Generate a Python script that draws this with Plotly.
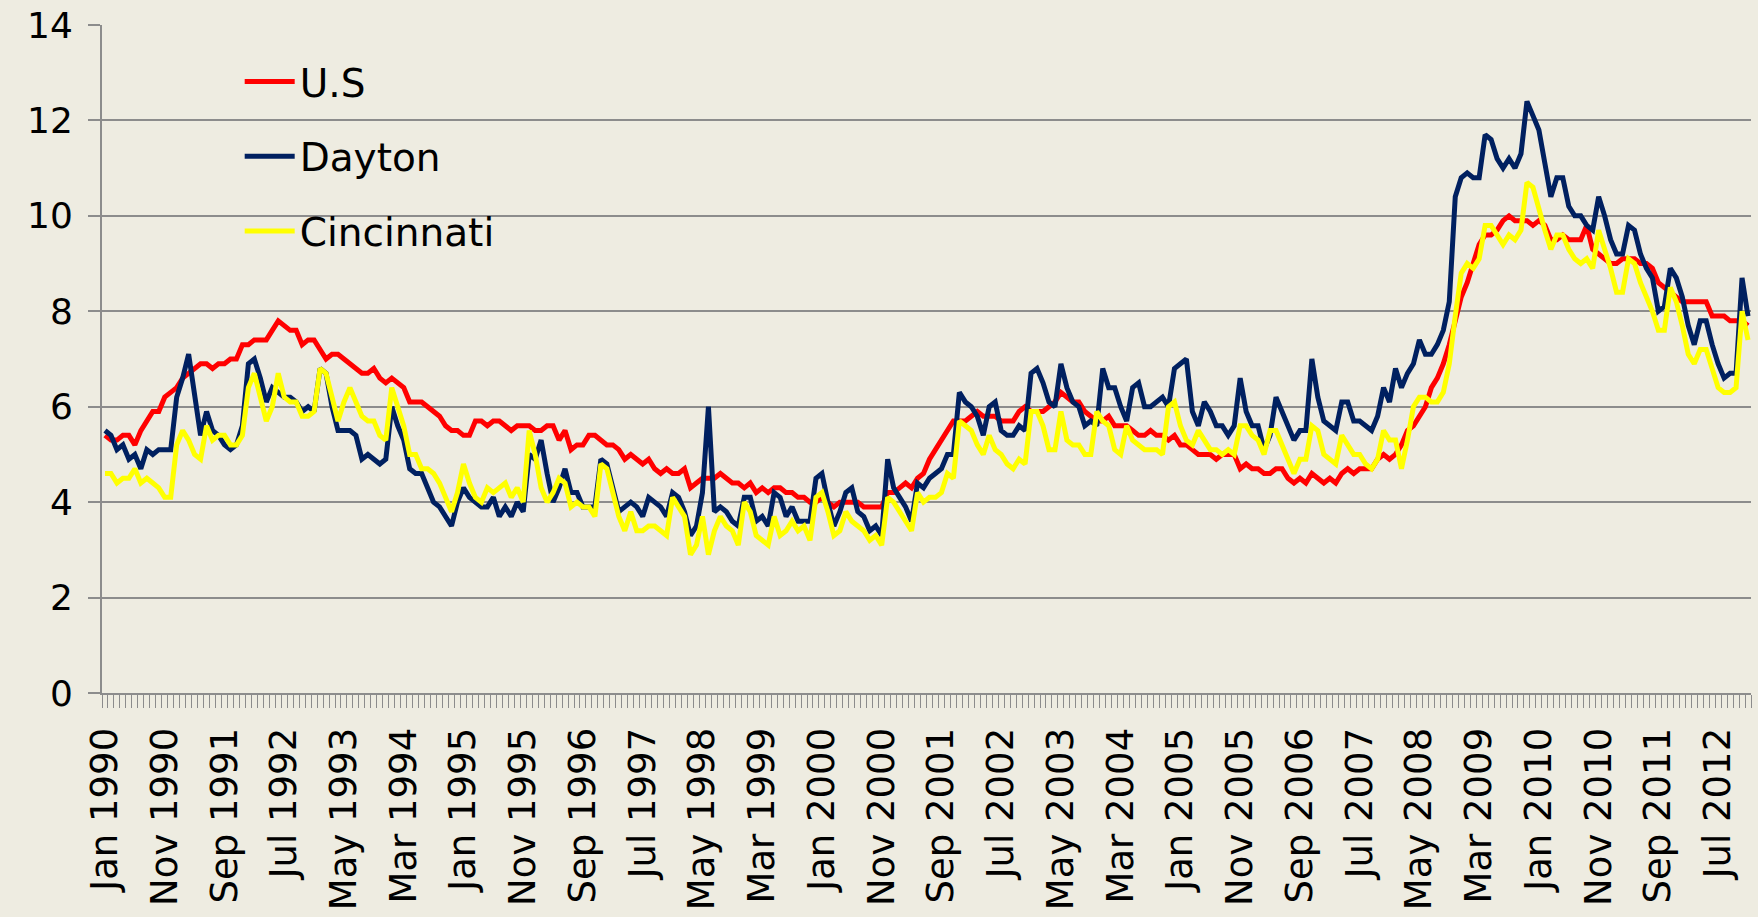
import plotly.graph_objects as go

# monthly categories, Jan 1990 .. Dec 2012
MONTH_NAMES = ["Jan", "Feb", "Mar", "Apr", "May", "Jun",
               "Jul", "Aug", "Sep", "Oct", "Nov", "Dec"]
months = [f"{m} {y}" for y in range(1990, 2013) for m in MONTH_NAMES]

# labels Excel printed under the axis (every 10th month)
tick_labels = [
    "Jan 1990", "Nov 1990", "Sep 1991", "Jul 1992", "May 1993", "Mar 1994",
    "Jan 1995", "Nov 1995", "Sep 1996", "Jul 1997", "May 1998", "Mar 1999",
    "Jan 2000", "Nov 2000", "Sep 2001", "Jul 2002", "May 2003", "Mar 2004",
    "Jan 2005", "Nov 2005", "Sep 2006", "Jul 2007", "May 2008", "Mar 2009",
    "Jan 2010", "Nov 2010", "Sep 2011", "Jul 2012",
]

# unemployment rate (%), one row per year
us = [
    5.4, 5.3, 5.3, 5.4, 5.4, 5.2, 5.5, 5.7, 5.9, 5.9, 6.2, 6.3,
    6.4, 6.6, 6.7, 6.8, 6.9, 6.9, 6.8, 6.9, 6.9, 7.0, 7.0, 7.3,
    7.3, 7.4, 7.4, 7.4, 7.6, 7.8, 7.7, 7.6, 7.6, 7.3, 7.4, 7.4,
    7.2, 7.0, 7.1, 7.1, 7.0, 6.9, 6.8, 6.7, 6.7, 6.8, 6.6, 6.5,
    6.6, 6.5, 6.4, 6.1, 6.1, 6.1, 6.0, 5.9, 5.8, 5.6, 5.5, 5.5,
    5.4, 5.4, 5.7, 5.7, 5.6, 5.7, 5.7, 5.6, 5.5, 5.6, 5.6, 5.6,
    5.5, 5.5, 5.6, 5.6, 5.3, 5.5, 5.1, 5.2, 5.2, 5.4, 5.4, 5.3,
    5.2, 5.2, 5.1, 4.9, 5.0, 4.9, 4.8, 4.9, 4.7, 4.6, 4.7, 4.6,
    4.6, 4.7, 4.3, 4.4, 4.5, 4.5, 4.5, 4.6, 4.5, 4.4, 4.4, 4.3,
    4.4, 4.2, 4.3, 4.2, 4.3, 4.3, 4.2, 4.2, 4.1, 4.1, 4.0, 4.0,
    4.1, 4.0, 3.9, 4.0, 4.0, 4.0, 4.0, 3.9, 3.9, 3.9, 3.9, 4.2,
    4.2, 4.3, 4.4, 4.3, 4.5, 4.6, 4.9, 5.1, 5.3, 5.5, 5.7, 5.7,
    5.7, 5.8, 5.9, 5.8, 5.8, 5.8, 5.7, 5.7, 5.7, 5.9, 6.0, 5.9,
    5.9, 5.9, 6.0, 6.1, 6.3, 6.2, 6.1, 6.1, 5.9, 5.8, 5.7, 5.7,
    5.8, 5.6, 5.6, 5.6, 5.5, 5.4, 5.4, 5.5, 5.4, 5.4, 5.3, 5.4,
    5.2, 5.2, 5.1, 5.0, 5.0, 5.0, 4.9, 5.0, 5.0, 5.0, 4.7, 4.8,
    4.7, 4.7, 4.6, 4.6, 4.7, 4.7, 4.5, 4.4, 4.5, 4.4, 4.6, 4.5,
    4.4, 4.5, 4.4, 4.6, 4.7, 4.6, 4.7, 4.7, 4.7, 4.9, 5.0, 4.9,
    5.0, 5.2, 5.5, 5.6, 5.8, 6.0, 6.4, 6.6, 6.9, 7.3, 7.8, 8.3,
    8.6, 9.0, 9.4, 9.6, 9.6, 9.7, 9.9, 10.0, 9.9, 9.9, 9.9, 9.8,
    9.9, 9.8, 9.5, 9.5, 9.6, 9.5, 9.5, 9.5, 9.8, 9.3, 9.2, 9.1,
    9.0, 9.0, 9.1, 9.1, 9.1, 9.0, 9.0, 8.9, 8.6, 8.5, 8.4, 8.3,
    8.2, 8.2, 8.2, 8.2, 8.2, 7.9, 7.9, 7.9, 7.8, 7.8, 7.8, 7.7,
]

dayton = [
    5.5, 5.4, 5.1, 5.2, 4.9, 5.0, 4.7, 5.1, 5.0, 5.1, 5.1, 5.1,
    6.2, 6.6, 7.1, 6.2, 5.4, 5.9, 5.5, 5.4, 5.2, 5.1, 5.2, 5.6,
    6.9, 7.0, 6.6, 6.1, 6.4, 6.3, 6.2, 6.2, 6.1, 5.9, 6.0, 5.9,
    6.8, 6.7, 6.0, 5.5, 5.5, 5.5, 5.4, 4.9, 5.0, 4.9, 4.8, 4.9,
    6.0, 5.6, 5.3, 4.7, 4.6, 4.6, 4.3, 4.0, 3.9, 3.7, 3.5, 4.0,
    4.3, 4.1, 4.0, 3.9, 3.9, 4.1, 3.7, 3.9, 3.7, 4.0, 3.8, 5.0,
    4.9, 5.3, 4.6, 4.0, 4.3, 4.7, 4.2, 4.2, 3.9, 3.9, 3.9, 4.9,
    4.8, 4.3, 3.8, 3.9, 4.0, 3.9, 3.7, 4.1, 4.0, 3.9, 3.7, 4.2,
    4.1, 3.8, 3.3, 3.5, 4.2, 6.0, 3.8, 3.9, 3.8, 3.6, 3.5, 4.1,
    4.1, 3.6, 3.7, 3.5, 4.2, 4.1, 3.7, 3.9, 3.6, 3.6, 3.6, 4.5,
    4.6, 4.0, 3.5, 3.8, 4.2, 4.3, 3.8, 3.7, 3.4, 3.5, 3.3, 4.9,
    4.3, 4.1, 3.9, 3.6, 4.4, 4.3, 4.5, 4.6, 4.7, 5.0, 5.0, 6.3,
    6.1, 6.0, 5.8, 5.4, 6.0, 6.1, 5.5, 5.4, 5.4, 5.6, 5.5, 6.7,
    6.8, 6.5, 6.1, 6.0, 6.9, 6.4, 6.1, 6.0, 5.6, 5.7, 5.6, 6.8,
    6.4, 6.4, 6.0, 5.7, 6.4, 6.5, 6.0, 6.0, 6.1, 6.2, 6.0, 6.8,
    6.9, 7.0, 5.9, 5.6, 6.1, 5.9, 5.6, 5.6, 5.4, 5.6, 6.6, 5.9,
    5.6, 5.6, 5.1, 5.4, 6.2, 5.9, 5.6, 5.3, 5.5, 5.5, 7.0, 6.2,
    5.7, 5.6, 5.5, 6.1, 6.1, 5.7, 5.7, 5.6, 5.5, 5.8, 6.4, 6.1,
    6.8, 6.4, 6.7, 6.9, 7.4, 7.1, 7.1, 7.3, 7.6, 8.2, 10.4, 10.8,
    10.9, 10.8, 10.8, 11.7, 11.6, 11.2, 11.0, 11.2, 11.0, 11.3, 12.4, 12.1,
    11.8, 11.1, 10.4, 10.8, 10.8, 10.2, 10.0, 10.0, 9.8, 9.7, 10.4, 10.0,
    9.5, 9.2, 9.2, 9.8, 9.7, 9.2, 8.9, 8.7, 8.0, 8.1, 8.9, 8.7,
    8.3, 7.7, 7.3, 7.8, 7.8, 7.3, 6.9, 6.6, 6.7, 6.7, 8.7, 7.9,
]

cincinnati = [
    4.6, 4.6, 4.4, 4.5, 4.5, 4.7, 4.4, 4.5, 4.4, 4.3, 4.1, 4.1,
    5.2, 5.5, 5.3, 5.0, 4.9, 5.6, 5.3, 5.4, 5.4, 5.2, 5.2, 5.4,
    6.4, 6.7, 6.2, 5.7, 6.0, 6.7, 6.2, 6.1, 6.1, 5.8, 5.8, 5.9,
    6.8, 6.7, 6.2, 5.7, 6.1, 6.4, 6.1, 5.8, 5.7, 5.7, 5.4, 5.3,
    6.4, 6.0, 5.6, 5.0, 5.0, 4.7, 4.7, 4.6, 4.4, 4.1, 3.8, 4.2,
    4.8, 4.4, 4.1, 4.0, 4.3, 4.2, 4.3, 4.4, 4.1, 4.3, 4.0, 5.5,
    5.0, 4.3, 4.0, 4.2, 4.5, 4.4, 3.9, 4.0, 3.9, 3.9, 3.7, 4.8,
    4.7, 4.2, 3.7, 3.4, 3.8, 3.4, 3.4, 3.5, 3.5, 3.4, 3.3, 4.1,
    3.9, 3.7, 2.9, 3.1, 3.7, 2.9, 3.4, 3.7, 3.5, 3.4, 3.1, 4.0,
    3.8, 3.3, 3.2, 3.1, 3.7, 3.3, 3.4, 3.6, 3.4, 3.5, 3.2, 4.1,
    4.2, 3.8, 3.3, 3.4, 3.8, 3.6, 3.5, 3.4, 3.2, 3.3, 3.1, 4.1,
    4.0, 3.8, 3.6, 3.4, 4.2, 4.0, 4.1, 4.1, 4.2, 4.6, 4.5, 5.7,
    5.6, 5.5, 5.2, 5.0, 5.4, 5.1, 5.0, 4.8, 4.7, 4.9, 4.8, 5.9,
    5.9, 5.6, 5.1, 5.1, 5.9, 5.3, 5.2, 5.2, 5.0, 5.0, 5.9, 5.7,
    5.6, 5.1, 5.0, 5.6, 5.3, 5.2, 5.1, 5.1, 5.1, 5.0, 6.0, 6.1,
    5.6, 5.3, 5.2, 5.5, 5.3, 5.1, 5.1, 5.0, 5.1, 5.0, 5.6, 5.6,
    5.4, 5.3, 5.0, 5.5, 5.5, 5.2, 4.9, 4.6, 4.9, 4.9, 5.6, 5.5,
    5.0, 4.9, 4.8, 5.4, 5.2, 5.0, 5.0, 4.8, 4.7, 4.9, 5.5, 5.3,
    5.3, 4.7, 5.3, 6.0, 6.2, 6.2, 6.1, 6.1, 6.3, 6.9, 7.9, 8.8,
    9.0, 8.9, 9.1, 9.8, 9.8, 9.6, 9.4, 9.6, 9.5, 9.7, 10.7, 10.6,
    10.1, 9.7, 9.3, 9.6, 9.6, 9.3, 9.1, 9.0, 9.1, 8.9, 9.7, 9.3,
    8.9, 8.4, 8.4, 9.1, 9.0, 8.6, 8.3, 8.0, 7.6, 7.6, 8.5, 8.2,
    7.7, 7.1, 6.9, 7.2, 7.2, 6.8, 6.4, 6.3, 6.3, 6.4, 8.0, 7.4,
]

BG = "#EEECE1"
GRID = "#8C8C8C"
FONT = "DejaVu Sans"

series = [
    ("U.S", us, "#FF0000"),
    ("Dayton", dayton, "#002060"),
    ("Cincinnati", cincinnati, "#FFFF00"),
]

fig = go.Figure()
for name, values, color in series:
    fig.add_trace(go.Scatter(
        x=months, y=values, name=name, mode="lines",
        legendgroup=name,
        line=dict(color=color, width=5),
    ))

fig.update_layout(
    width=1758, height=917,
    paper_bgcolor=BG, plot_bgcolor=BG,
    margin=dict(l=102, r=7, t=25, b=224),
    font=dict(family=FONT, size=36, color="black"),
    showlegend=True,
    legend=dict(
        x=0.0835, y=0.963, xanchor="left", yanchor="top",
        bgcolor="rgba(0,0,0,0)", font=dict(size=39),
        tracegroupgap=21, itemwidth=50,
    ),
)

fig.update_xaxes(
    type="category",
    tickmode="array",
    tickvals=months,
    ticktext=[m if m in tick_labels else "" for m in months],
    tickangle=-90,
    tickson="boundaries",
    ticks="outside", ticklen=13, tickcolor=GRID, tickwidth=1,
    ticklabelstandoff=18,
    showgrid=False,
    showline=True, linecolor=GRID, linewidth=2,
    tickfont=dict(size=37),
    range=[-0.5, len(months) - 0.5],
    automargin=False,
)
fig.update_yaxes(
    range=[0, 14], dtick=2,
    showgrid=True, gridcolor=GRID, gridwidth=2,
    zeroline=False,
    showline=True, linecolor=GRID, linewidth=2,
    ticks="outside", ticklen=12, tickcolor=GRID, tickwidth=2,
    ticklabelstandoff=8,
    tickfont=dict(size=36),
    automargin=False,
)

# drop the browser's default page margin so the figure fills the window
fig.write_html(
    "out.html",
    config={"displayModeBar": False},
    post_script="document.body.style.margin='0';"
                "document.body.style.background='%s';" % BG,
)
